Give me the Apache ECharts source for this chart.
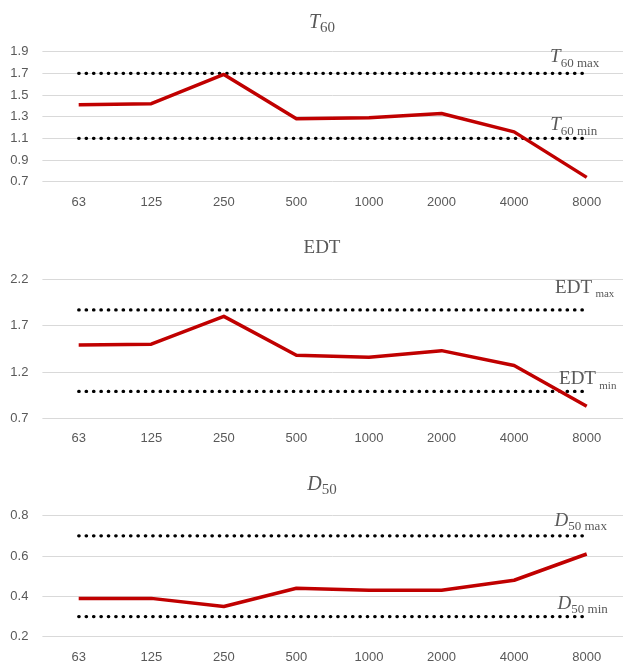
<!DOCTYPE html>
<html>
<head>
<meta charset="utf-8">
<script src="https://cdn.jsdelivr.net/npm/echarts@6/dist/echarts.min.js"></script>
<style>
  html, body { margin: 0; padding: 0; background: #ffffff; }
  #chart { width: 623px; height: 666px; }
</style>
</head>
<body>
<div id="chart"></div>
<script>
// Octave-band centre frequencies (Hz)
const freqs = ['63', '125', '250', '500', '1000', '2000', '4000', '8000'];

// Measured room-acoustic parameters per band
const t60 = [1.41, 1.42, 1.69, 1.28, 1.29, 1.33, 1.16, 0.74];
const edt = [1.49, 1.50, 1.80, 1.38, 1.36, 1.43, 1.27, 0.83];
const d50 = [0.39, 0.39, 0.35, 0.44, 0.43, 0.43, 0.48, 0.61];

// Recommended limits
const t60Limits = [1.1, 1.7];   // [min, max]
const edtLimits = [0.99, 1.87];
const d50Limits = [0.3, 0.7];

// Value-axis scales: [min, max, step]
const t60Axis = [0.7, 1.9, 0.2];
const edtAxis = [0.7, 2.2, 0.5];
const d50Axis = [0.2, 0.8, 0.2];

const GREY = '#595959';
const SERIF = '"Liberation Serif", "Times New Roman", serif';
const SANS = '"Liberation Sans", Arial, sans-serif';

const panels = [
  { top: 51.7, height: 130, axis: t60Axis, values: t60, limits: t60Limits },
  { top: 279.3, height: 139, axis: edtAxis, values: edt, limits: edtLimits },
  { top: 515.7, height: 121, axis: d50Axis, values: d50, limits: d50Limits }
];

// Rich-text styles for symbols with subscripts
function symRich(italic, big, small, subPad) {
  return {
    i: { fontFamily: SERIF, fontStyle: italic ? 'italic' : 'normal', fontWeight: 'normal',
         fontSize: big, lineHeight: 20, color: GREY },
    s: { fontFamily: SERIF, fontWeight: 'normal', fontSize: small, lineHeight: small,
         padding: [subPad, 0, 0, 0], color: GREY }
  };
}

const titles = [
  { text: '{i|T}{s|60}', x: 322, y: 12.5, rich: symRich(true, 20, 15, 12) },
  { text: '{i|EDT}', x: 322, y: 238, rich: symRich(false, 19, 14, 12) },
  { text: '{i|D}{s|50}', x: 322, y: 474.5, rich: symRich(true, 20, 15, 12) }
];

// Limit annotations: text, offset from the last limit point
const limitLabels = [
  [ { text: '{i|T}{s|60 min}', off: [-13, -13], rich: symRich(true, 19, 13, 12) },
    { text: '{i|T}{s|60 max}', off: [-12, -16], rich: symRich(true, 19, 13, 12) } ],
  [ { text: '{i|EDT} {s|min}', off: [1, -12], rich: symRich(false, 19, 11, 13) },
    { text: '{i|EDT} {s|max}', off: [-2, -22], rich: symRich(false, 19, 11, 13) } ],
  [ { text: '{i|D}{s|50 min}', off: [-4, -13], rich: symRich(true, 19, 13, 12) },
    { text: '{i|D}{s|50 max}', off: [-6, -15], rich: symRich(true, 19, 13, 12) } ]
];

const grid = [], xAxis = [], yAxis = [], series = [];

panels.forEach((p, k) => {
  grid.push({ left: 42.4, width: 585.2, top: p.top, height: p.height });
  xAxis.push({
    type: 'category', gridIndex: k, data: freqs, boundaryGap: true,
    axisLine: { show: false }, axisTick: { show: false },
    axisLabel: { color: GREY, fontFamily: SANS, fontSize: 13, margin: 14 }
  });
  yAxis.push({
    type: 'value', gridIndex: k, min: p.axis[0], max: p.axis[1], interval: p.axis[2],
    axisLine: { show: false }, axisTick: { show: false },
    axisLabel: { color: GREY, fontFamily: SANS, fontSize: 13, margin: 14,
                 formatter: v => v.toFixed(1) },
    splitLine: { lineStyle: { color: '#d9d9d9', width: 1 } }
  });

  // Limit lines (dotted), each labelled at its right end
  p.limits.forEach((lim, j) => {
    const lab = limitLabels[k][j];
    series.push({
      type: 'line', xAxisIndex: k, yAxisIndex: k,
      data: freqs.map(() => lim),
      symbol: 'none', silent: true, z: 2,
      lineStyle: { color: '#000000', width: 3.2, type: [0.5, 6.9], cap: 'round' },
      markPoint: {
        symbol: 'rect', symbolSize: 1, silent: true,
        itemStyle: { color: 'rgba(0,0,0,0)' },
        data: [{ coord: [freqs[freqs.length - 1], lim], value: lim }],
        label: {
          show: true, position: 'inside', offset: lab.off,
          formatter: lab.text, rich: lab.rich
        }
      }
    });
  });

  // Measured values
  series.push({
    type: 'line', xAxisIndex: k, yAxisIndex: k,
    data: p.values, symbol: 'none', z: 3,
    lineStyle: { color: '#c00000', width: 3.5, join: 'round' }
  });
});

const chart = echarts.init(document.getElementById('chart'), null, { renderer: 'canvas' });
chart.setOption({
  animation: false,
  backgroundColor: '#ffffff',
  title: titles.map(t => ({
    text: t.text, left: t.x, top: t.y, textAlign: 'center', padding: 0,
    textStyle: { fontWeight: 'normal', rich: t.rich }
  })),
  grid, xAxis, yAxis, series
});
</script>
</body>
</html>
